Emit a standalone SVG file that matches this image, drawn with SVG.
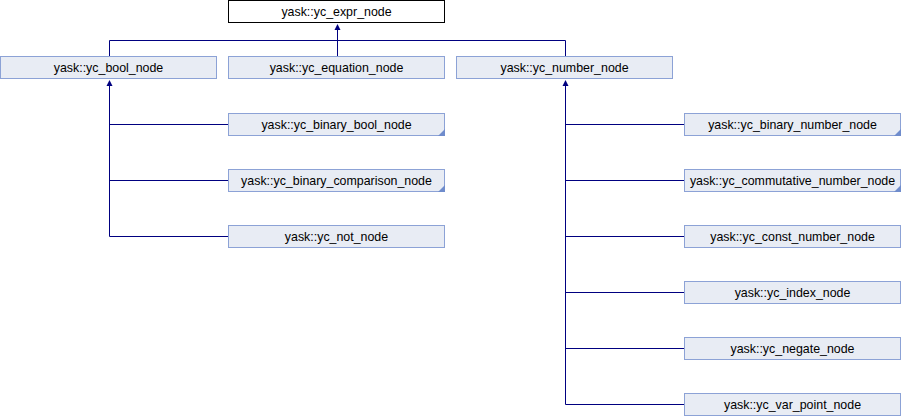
<svg xmlns="http://www.w3.org/2000/svg" width="902" height="416" viewBox="0 0 902 416">
<style>
.n rect{fill:#e8ecf4;stroke:#8ca2d6;stroke-width:1}
.root rect{fill:#ffffff;stroke:#000000;stroke-width:1}
text{font-family:"Liberation Sans",Arial,sans-serif;font-size:12.4px;fill:#000000;text-anchor:middle}
.c path{fill:none;stroke:#000080;stroke-width:1}
.c polygon{fill:#000080;stroke:none}
.m{fill:#6f8ccc}
</style>
<rect width="902" height="416" fill="#ffffff"/>
<g class="c" id="connectors">
<path d="M109.5,56 V40.5 H565.5 V56"/>
<path d="M337.5,56 V29"/>
<polygon points="337.5,24 334.5,30 340.5,30"/>
<path d="M109.5,85 V236.5 H228 M109.5,124.5 H228 M109.5,180.5 H228"/>
<polygon points="109.5,80 106.5,86 112.5,86"/>
<path d="M565.5,85 V404.5 H684 M565.5,124.5 H684 M565.5,180.5 H684 M565.5,236.5 H684 M565.5,292.5 H684 M565.5,348.5 H684"/>
<polygon points="565.5,80 562.5,86 568.5,86"/>
</g>
<g id="yc_expr_node" class="root"><rect x="228.5" y="0.5" width="216" height="22"/><text x="336.5" y="15.5">yask::yc_expr_node</text></g>
<g id="yc_bool_node" class="n"><rect x="0.5" y="56.5" width="216" height="22"/><text x="108.5" y="71.5">yask::yc_bool_node</text></g>
<g id="yc_equation_node" class="n"><rect x="228.5" y="56.5" width="216" height="22"/><text x="336.5" y="71.5">yask::yc_equation_node</text></g>
<g id="yc_number_node" class="n"><rect x="456.5" y="56.5" width="216" height="22"/><text x="564.5" y="71.5">yask::yc_number_node</text></g>
<g id="yc_binary_bool_node" class="n"><rect x="228.5" y="113.5" width="216" height="22"/><polygon class="m" points="438,136 445,136 445,129"/><text x="336.5" y="128.5">yask::yc_binary_bool_node</text></g>
<g id="yc_binary_comparison_node" class="n"><rect x="228.5" y="169.5" width="216" height="22"/><polygon class="m" points="438,192 445,192 445,185"/><text x="336.5" y="184.5">yask::yc_binary_comparison_node</text></g>
<g id="yc_not_node" class="n"><rect x="228.5" y="225.5" width="216" height="22"/><text x="336.5" y="240.5">yask::yc_not_node</text></g>
<g id="yc_binary_number_node" class="n"><rect x="684.5" y="113.5" width="216" height="22"/><polygon class="m" points="894,136 901,136 901,129"/><text x="792.5" y="128.5">yask::yc_binary_number_node</text></g>
<g id="yc_commutative_number_node" class="n"><rect x="684.5" y="169.5" width="216" height="22"/><polygon class="m" points="894,192 901,192 901,185"/><text x="792.5" y="184.5">yask::yc_commutative_number_node</text></g>
<g id="yc_const_number_node" class="n"><rect x="684.5" y="225.5" width="216" height="22"/><text x="792.5" y="240.5">yask::yc_const_number_node</text></g>
<g id="yc_index_node" class="n"><rect x="684.5" y="281.5" width="216" height="22"/><text x="792.5" y="296.5">yask::yc_index_node</text></g>
<g id="yc_negate_node" class="n"><rect x="684.5" y="337.5" width="216" height="22"/><text x="792.5" y="352.5">yask::yc_negate_node</text></g>
<g id="yc_var_point_node" class="n"><rect x="684.5" y="393.5" width="216" height="22"/><text x="792.5" y="408.5">yask::yc_var_point_node</text></g>
</svg>
